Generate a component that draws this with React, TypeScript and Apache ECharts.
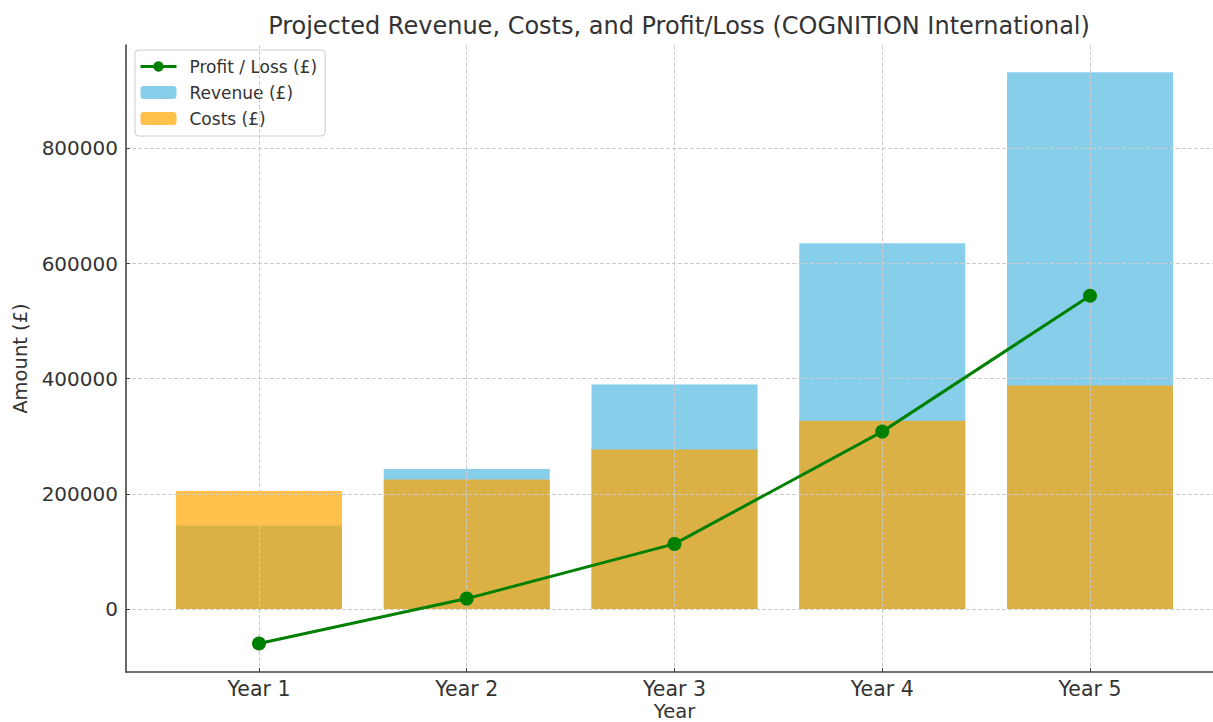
import React, { useEffect, useRef } from "react";
import * as echarts from "echarts";

const years = ["Year 1", "Year 2", "Year 3", "Year 4", "Year 5"];
const revenue = [145000, 243000, 390000, 635000, 932000];
const costs = [205000, 225000, 277000, 327000, 388000];
const profit = [-60000, 18000, 113000, 308000, 544000];
const yTicks = [0, 200000, 400000, 600000, 800000];
const xTicks = [0, 1, 2, 3, 4];

const FONT = "DejaVu Sans";
const TEXT = "#333333";

export default function App() {
  const ref = useRef<HTMLDivElement>(null);
  useEffect(() => {
    const chart = echarts.init(ref.current!, undefined, { renderer: "svg" });
    const grid = { type: "dashed", color: "#cccccc", width: 1 };
    chart.setOption({
      animation: false,
      backgroundColor: "#ffffff",
      textStyle: { fontFamily: FONT },
      title: {
        text: "Projected Revenue, Costs, and Profit/Loss (COGNITION International)",
        left: 674,
        textAlign: "center",
        top: 9,
        textStyle: { fontFamily: FONT, fontSize: 24, fontWeight: "normal", color: TEXT },
      },
      legend: {
        data: ["Profit / Loss (£)", "Revenue (£)", "Costs (£)"],
        orient: "vertical",
        left: 135,
        top: 50,
        padding: [8, 8, 9, 4],
        itemGap: 9,
        itemWidth: 36,
        itemHeight: 13,
        lineStyle: { width: 3 },
        backgroundColor: "rgba(255,255,255,0.85)",
        borderColor: "#cccccc",
        borderWidth: 1,
        borderRadius: 4,
        textStyle: { fontFamily: FONT, fontSize: 17, color: TEXT, padding: [0, 0, 0, 8] },
      },
      grid: { left: 126, right: -10, top: 45, bottom: 50, outerBoundsMode: "none", containLabel: false },
      xAxis: {
        type: "value",
        min: -0.64,
        max: 4.64,
        z: 5,
        name: "Year",
        nameLocation: "middle",
        nameMoveOverlap: false,
        nameGap: 31,
        nameTextStyle: { fontFamily: FONT, fontSize: 19.5, lineHeight: 16, color: TEXT },
        axisLine: { onZero: false, lineStyle: { color: "#444444", width: 1.6 } },
        axisTick: { inside: true, length: 4, customValues: xTicks, lineStyle: { color: "#444444" } },
        axisLabel: {
          customValues: xTicks,
          fontFamily: FONT,
          fontSize: 20.5,
          color: TEXT,
          margin: 6,
          formatter: (v: number) => (Number.isInteger(v) ? years[v] : ""),
        },
        splitLine: { show: true, customValues: xTicks, lineStyle: grid },
      },
      yAxis: {
        type: "value",
        min: -109500,
        max: 979500,
        z: 5,
        name: "Amount (£)",
        nameLocation: "middle",
        nameGap: 94,
        nameTextStyle: { fontFamily: FONT, fontSize: 19.5, color: TEXT },
        axisLine: { show: true, onZero: false, lineStyle: { color: "#444444", width: 1.6 } },
        axisTick: { show: true, inside: true, length: 4, customValues: yTicks, lineStyle: { color: "#444444" } },
        axisLabel: {
          customValues: yTicks,
          fontFamily: FONT,
          fontSize: 20,
          color: TEXT,
          margin: 8,
          formatter: (v: number) => (v % 200000 === 0 ? String(v) : ""),
        },
        splitLine: { show: true, customValues: yTicks, lineStyle: grid },
      },
      series: [
        {
          name: "Revenue (£)",
          type: "bar",
          data: revenue.map((v, i) => [i, v]),
          barWidth: 166,
          barGap: "-100%",
          itemStyle: { color: "#87CEEB" },
          z: 2,
        },
        {
          name: "Costs (£)",
          type: "bar",
          data: costs.map((v, i) => [i, v]),
          barWidth: 166,
          barGap: "-100%",
          itemStyle: { color: "rgba(255,165,0,0.7)" },
          z: 3,
        },
        {
          name: "Profit / Loss (£)",
          type: "line",
          data: profit.map((v, i) => [i, v]),
          symbol: "circle",
          symbolSize: 14,
          lineStyle: { color: "#008000", width: 3 },
          itemStyle: { color: "#008000" },
          z: 10,
        },
      ],
    });
    return () => chart.dispose();
  }, []);
  return (
    <div
      ref={ref}
      style={{ position: "fixed", left: 0, top: 0, width: 1213, height: 722 }}
    />
  );
}
